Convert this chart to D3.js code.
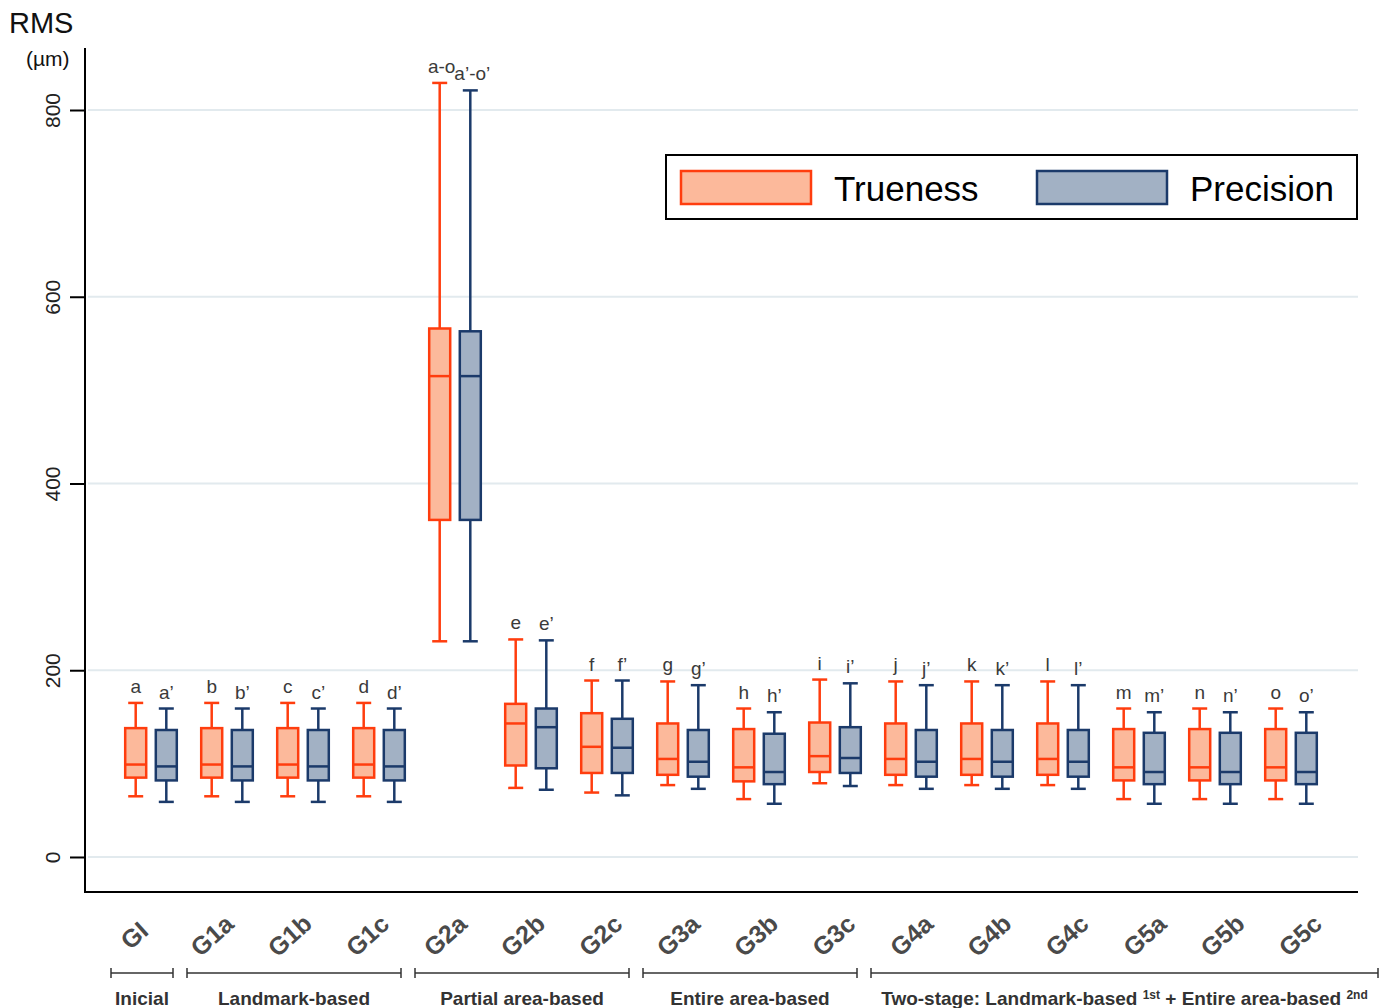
<!DOCTYPE html>
<meta charset="utf-8">
<html>
<head><title>RMS trueness and precision</title>
<script src="https://cdn.jsdelivr.net/npm/d3@7"></script>
<style>
    body { margin: 0; background: #fff; }
    svg { font-family: "Liberation Sans", Arial, sans-serif; }
    .grid { stroke: #e2eaee; stroke-width: 2; }
    .frame { stroke: #000; stroke-width: 2; fill: none; }
    .tLabel { font-size: 19px; fill: #3a3a3a; }
    .xLabel { font-size: 25px; font-weight: bold; fill: #4a4a4a; }
    .grpLabel { font-size: 19px; font-weight: bold; fill: #333; }
</style>
</head>
<body>
<div id="chart"></div>
<script>

var groups = ["GI","G1a","G1b","G1c","G2a","G2b","G2c","G3a","G3b","G3c","G4a","G4b","G4c","G5a","G5b","G5c"];

// [min, q1, median, q3, max] in µm
var trueness = [
    [65, 85, 99, 138, 165],
    [65, 85, 99, 138, 165],
    [65, 85, 99, 138, 165],
    [65, 85, 99, 138, 165],
    [231, 361, 515, 566, 829],
    [74, 98, 143, 164, 233],
    [69, 90, 118, 154, 189],
    [77, 88, 105, 143, 188],
    [62, 81, 96, 137, 159],
    [79, 91, 108, 144, 190],
    [77, 88, 105, 143, 188],
    [77, 88, 105, 143, 188],
    [77, 88, 105, 143, 188],
    [62, 82, 96, 137, 159],
    [62, 82, 96, 137, 159],
    [62, 82, 96, 137, 159]
];
var precision = [
    [59, 82, 97, 136, 159],
    [59, 82, 97, 136, 159],
    [59, 82, 97, 136, 159],
    [59, 82, 97, 136, 159],
    [231, 361, 515, 563, 821],
    [72, 95, 139, 159, 232],
    [66, 90, 117, 148, 189],
    [73, 86, 102, 136, 184],
    [57, 78, 91, 132, 155],
    [76, 90, 106, 139, 186],
    [73, 86, 102, 136, 184],
    [73, 86, 102, 136, 184],
    [73, 86, 102, 136, 184],
    [57, 78, 91, 133, 155],
    [57, 78, 91, 133, 155],
    [57, 78, 91, 133, 155]
];

var truenessLetters = ["a","b","c","d","a-o","e","f","g","h","i","j","k","l","m","n","o"];
var precisionLetters = ["a’","b’","c’","d’","a’-o’","e’","f’","g’","h’","i’","j’","k’","l’","m’","n’","o’"];

var yTicks = [0, 200, 400, 600, 800];
var seriesNames = ["Trueness", "Precision"];

// method families shown under the axis: [label, first group, last group]
var families = [
    ["Inicial", "GI", "GI"],
    ["Landmark-based", "G1a", "G1c"],
    ["Partial area-based", "G2a", "G2c"],
    ["Entire area-based", "G3a", "G3c"],
    ["Two-stage", "G4a", "G5c"]
];

var W = 1389, H = 1008;
var pLeft = 85, pRight = 1358, pTop = 48, pBottom = 892;

var tStroke = "#ff3d0e", tFill = "#fcb99b";
var pStroke = "#1b3a6a", pFill = "#a2b1c4";

var svg = d3.select("#chart").append("svg")
    .attr("width", W)
    .attr("height", H);

svg.append("rect").attr("width", W).attr("height", H).attr("fill", "#fff");

var y = d3.scaleLinear().domain([-37.5, 866.4]).range([pBottom, pTop]);
var x = d3.scaleBand().domain(groups).range([113, 1329]).padding(0);
var xl = d3.scalePoint().domain(groups).range([140, 1306]);

var off = 15.3, boxW = 21, capW = 15;

// grid lines
svg.selectAll("line.grid")
    .data(yTicks)
    .enter()
    .append("line")
    .attr("class", "grid")
    .attr("x1", pLeft + 3)
    .attr("x2", pRight)
    .attr("y1", function(d) { return y(d); })
    .attr("y2", function(d) { return y(d); });

// y axis ticks + labels
var yAxis = svg.append("g")
    .attr("transform", "translate(" + pLeft + ",0)")
    .call(d3.axisLeft(y).tickValues(yTicks).tickSize(15).tickSizeOuter(0));
yAxis.select(".domain").remove();
yAxis.selectAll(".tick line").attr("stroke", "#000").attr("stroke-width", 2);
yAxis.selectAll(".tick text")
    .attr("transform", "rotate(-90)")
    .attr("x", 0)
    .attr("y", -25)
    .attr("dy", 0)
    .attr("text-anchor", "middle")
    .attr("fill", "#222")
    .style("font-size", "21px")
    .style("font-family", "Liberation Sans, Arial, sans-serif");

// frame: left and bottom axis lines
svg.append("path")
    .attr("class", "frame")
    .attr("d", "M" + pLeft + "," + pTop + "V" + pBottom + "H" + pRight);

svg.append("text").attr("x", 9).attr("y", 33)
    .style("font-size", "29px").attr("fill", "#111").text("RMS");
svg.append("text").attr("x", 26).attr("y", 66)
    .style("font-size", "21px").attr("fill", "#111").text("(µm)");

function drawBoxes(data, letters, dx, stroke, fill) {
    var g = svg.append("g");
    var b = g.selectAll("g.box")
        .data(data)
        .enter()
        .append("g")
        .attr("transform", function(d, i) {
            return "translate(" + (x(groups[i]) + x.bandwidth() / 2 + dx) + ",0)";
        });
    b.append("line")
        .attr("x1", 0).attr("x2", 0)
        .attr("y1", function(d) { return y(d[4]); })
        .attr("y2", function(d) { return y(d[0]); })
        .attr("stroke", stroke).attr("stroke-width", 2.5);
    b.append("line")
        .attr("x1", -capW / 2).attr("x2", capW / 2)
        .attr("y1", function(d) { return y(d[4]); })
        .attr("y2", function(d) { return y(d[4]); })
        .attr("stroke", stroke).attr("stroke-width", 2.5);
    b.append("line")
        .attr("x1", -capW / 2).attr("x2", capW / 2)
        .attr("y1", function(d) { return y(d[0]); })
        .attr("y2", function(d) { return y(d[0]); })
        .attr("stroke", stroke).attr("stroke-width", 2.5);
    b.append("rect")
        .attr("x", -boxW / 2)
        .attr("width", boxW)
        .attr("y", function(d) { return y(d[3]); })
        .attr("height", function(d) { return y(d[1]) - y(d[3]); })
        .attr("fill", fill)
        .attr("stroke", stroke).attr("stroke-width", 2.5);
    b.append("line")
        .attr("x1", -boxW / 2).attr("x2", boxW / 2)
        .attr("y1", function(d) { return y(d[2]); })
        .attr("y2", function(d) { return y(d[2]); })
        .attr("stroke", stroke).attr("stroke-width", 2.5);
    b.append("text")
        .attr("class", "tLabel")
        .attr("text-anchor", "middle")
        .attr("x", function(d, i) { return letters[i].length > 2 ? 2 : 0; })
        .attr("y", function(d) { return y(d[4]) - 10; })
        .text(function(d, i) { return letters[i]; });
}

drawBoxes(trueness, truenessLetters, -off, tStroke, tFill);
drawBoxes(precision, precisionLetters, off, pStroke, pFill);

// x labels, rotated
svg.selectAll("text.xLabel")
    .data(groups)
    .enter()
    .append("text")
    .attr("class", "xLabel")
    .attr("text-anchor", "middle")
    .attr("transform", function(d) { return "translate(" + xl(d) + ",942) rotate(-42)"; })
    .text(function(d) { return d; });

// family brackets
var bY = 973;
families.forEach(function(f, i) {
    var x0 = x(f[1]) + x.bandwidth() / 2 - 40;
    var x1 = (i === families.length - 1) ? pRight + 20 : x(f[2]) + x.bandwidth() / 2 + 22;
    var g = svg.append("g").attr("stroke", "#333").attr("stroke-width", 1.5);
    g.append("line").attr("x1", x0).attr("x2", x1).attr("y1", bY).attr("y2", bY);
    g.append("line").attr("x1", x0).attr("x2", x0).attr("y1", bY - 5).attr("y2", bY + 5);
    g.append("line").attr("x1", x1).attr("x2", x1).attr("y1", bY - 5).attr("y2", bY + 5);
    var t = svg.append("text")
        .attr("class", "grpLabel")
        .attr("text-anchor", "middle")
        .attr("x", (x0 + x1) / 2)
        .attr("y", 1005);
    if (f[0] === "Two-stage") {
        t.append("tspan").text("Two-stage: Landmark-based ");
        t.append("tspan").attr("dy", -6).style("font-size", "12px").text("1st");
        t.append("tspan").attr("dy", 6).text(" + Entire area-based ");
        t.append("tspan").attr("dy", -6).style("font-size", "12px").text("2nd");
    } else {
        t.text(f[0]);
    }
});

// legend
var lg = svg.append("g").attr("transform", "translate(666,155)");
lg.append("rect").attr("width", 691).attr("height", 64)
    .attr("fill", "#fff").attr("stroke", "#000").attr("stroke-width", 2);
var sw = [[tFill, tStroke, 15, 168], [pFill, pStroke, 371, 524]];
seriesNames.forEach(function(name, i) {
    lg.append("rect")
        .attr("x", sw[i][2]).attr("y", 16)
        .attr("width", 130).attr("height", 33)
        .attr("fill", sw[i][0]).attr("stroke", sw[i][1]).attr("stroke-width", 2.5);
    lg.append("text")
        .attr("x", sw[i][3]).attr("y", 46)
        .style("font-size", "35px").attr("fill", "#000")
        .text(name);
});

</script>
</body>
</html>
